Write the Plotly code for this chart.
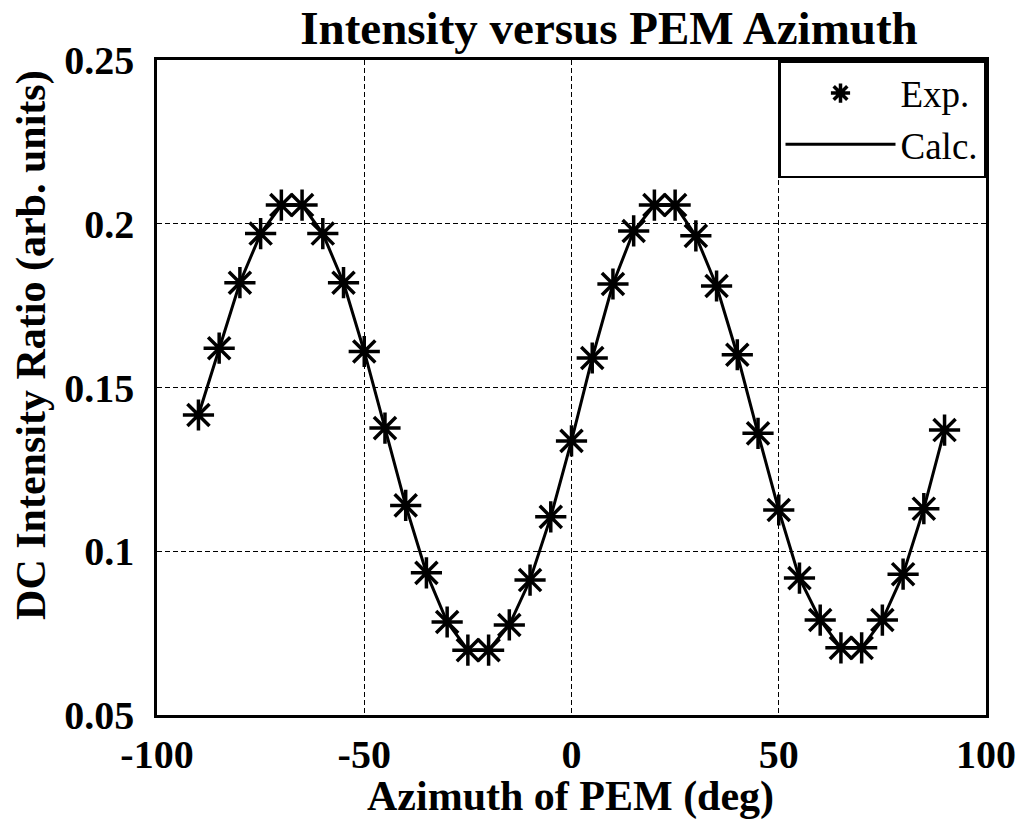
import plotly.graph_objects as go

azimuth = [-90, -85, -80, -75, -70, -65, -60, -55, -50, -45, -40, -35, -30, -25, -20, -15, -10, -5,
           0, 5, 10, 15, 20, 25, 30, 35, 40, 45, 50, 55, 60, 65, 70, 75, 80, 85, 90]
exp_vals = [0.1416, 0.162, 0.182, 0.197, 0.2057, 0.2057, 0.197, 0.182, 0.161, 0.1376, 0.114, 0.0934,
            0.0784, 0.0698, 0.0698, 0.0775, 0.0912, 0.1105, 0.1337, 0.159, 0.1816, 0.1978, 0.2057,
            0.2057, 0.1963, 0.181, 0.160, 0.136, 0.1126, 0.0918, 0.079, 0.0705, 0.0705, 0.079,
            0.093, 0.113, 0.137]
calc_vals = exp_vals
x_ticks = [-100, -50, 0, 50, 100]
y_ticks = [0.05, 0.1, 0.15, 0.2, 0.25]
y_tick_text = ["0.05", "0.1", "0.15", "0.2", "0.25"]

FONT = "Liberation Serif"

fig = go.Figure()
fig.add_trace(go.Scatter(
    x=azimuth, y=calc_vals, mode="lines", name="Calc.",
    line=dict(color="black", width=3), legendrank=2,
))
fig.add_trace(go.Scatter(
    x=azimuth, y=exp_vals, mode="markers", name="Exp.",
    marker=dict(symbol="asterisk-open", size=26, color="black", line=dict(color="black", width=3.5)),
    legendrank=1,
))

axis_common = dict(
    showline=True, linecolor="black", linewidth=2.5, mirror=True,
    showgrid=True, gridcolor="black", gridwidth=1, griddash="5px,3px",
    zeroline=False, ticks="",
    tickfont=dict(family=FONT, size=40, color="black", weight="bold"),
)

fig.update_layout(
    width=1028, height=822,
    margin=dict(l=157, r=36, t=60, b=107),
    paper_bgcolor="white", plot_bgcolor="white",
    title=dict(text="<b>Intensity versus PEM Azimuth</b>", x=609/1028, xref="container", xanchor="center",
               y=1 - 28/822, yref="container", yanchor="middle",
               font=dict(family=FONT, size=47, color="black")),
    xaxis=dict(range=[-100, 100], tickvals=x_ticks, ticktext=[str(v) for v in x_ticks],
               ticklabelstandoff=2, **axis_common),
    yaxis=dict(range=[0.05, 0.25], tickvals=y_ticks, ticktext=y_tick_text, ticklabelstandoff=12,
               **axis_common),
    legend=dict(x=1, xanchor="right", y=1, yanchor="top", bgcolor="white",
                bordercolor="black", borderwidth=2.5,
                font=dict(family=FONT, size=37, color="black"), itemwidth=110,
                tracegroupgap=0),
    showlegend=True,
    annotations=[
        dict(text="<b>DC Intensity Ratio (arb. units)</b>", textangle=-90,
             xref="paper", yref="paper", x=(31 - 157) / 835, y=(715 - 345) / 655,
             xanchor="center", yanchor="middle", showarrow=False,
             font=dict(family=FONT, size=42, color="black")),
        dict(text="<b>Azimuth of PEM (deg)</b>",
             xref="paper", yref="paper", x=(573 - 157) / 835, y=(715 - 822) / 655,
             xanchor="center", yanchor="bottom", showarrow=False,
             font=dict(family=FONT, size=42, color="black")),
    ],
)

fig.write_html("out.html")
